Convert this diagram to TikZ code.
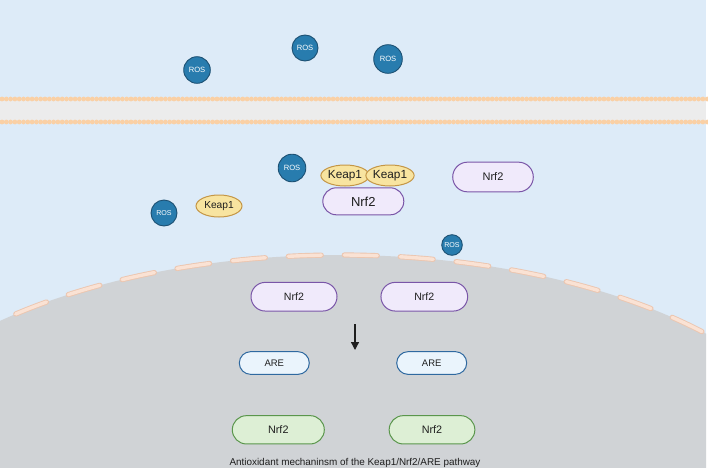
\documentclass[tikz,border=0pt]{standalone}
\usepackage{fontspec}
\setmainfont{Liberation Sans}
\usetikzlibrary{shapes.geometric,shapes.misc,arrows.meta}
\definecolor{bgblue}{RGB}{221,235,248}
\definecolor{nucgray}{RGB}{208,211,214}
\definecolor{dotpeach}{RGB}{250,208,165}
\definecolor{bandcol}{RGB}{236,236,236}
\definecolor{rosfill}{RGB}{40,124,174}
\definecolor{rosdraw}{RGB}{28,80,115}
\definecolor{keapfill}{RGB}{248,228,160}
\definecolor{keapdraw}{RGB}{196,150,70}
\definecolor{nrffill}{RGB}{240,234,251}
\definecolor{nrfdraw}{RGB}{122,86,168}
\definecolor{arefill}{RGB}{234,244,252}
\definecolor{aredraw}{RGB}{47,105,160}
\definecolor{grnfill}{RGB}{221,239,213}
\definecolor{grndraw}{RGB}{90,150,76}
\definecolor{dashout}{RGB}{236,198,176}
\definecolor{dashin}{RGB}{250,226,212}
\definecolor{txt}{RGB}{30,30,30}
\tikzset{
  ros/.style={circle, fill=rosfill, draw=rosdraw, line width=0.9pt, text=white, inner sep=0pt, minimum size=#1},
  keap/.style={ellipse, fill=keapfill, draw=keapdraw, line width=1pt, inner sep=0pt, text=txt},
  pill/.style={rounded rectangle, line width=1pt, inner sep=0pt, text=txt},
  nrf/.style={pill, fill=nrffill, draw=nrfdraw},
  are/.style={pill, fill=arefill, draw=aredraw},
  grn/.style={pill, fill=grnfill, draw=grndraw},
  fs/.style={font=\fontsize{#1}{#1}\selectfont}
}
\begin{document}
\begin{tikzpicture}[x=1pt,y=-1pt]
\useasboundingbox (0,0) rectangle (708,471);
\fill[white] (0,0) rectangle (708,471);
\fill[bgblue] (0,0) rectangle (706,467);
% membrane
\fill[bandcol] (0,100) rectangle (706,121);
\foreach \i in {0,...,164} {
  \fill[dotpeach] (2+4.3*\i,99) circle (2.4);
  \fill[dotpeach] (2+4.3*\i,122) circle (2.4);
}
% nucleus
\begin{scope}
\clip (0,0) rectangle (706,467);
\fill[nucgray] (340,502) ellipse [x radius=500, y radius=247];
\fill[nucgray] (0,502) rectangle (706,467);
\draw[dashout, line width=5.2pt, line cap=round, dash pattern=on 33pt off 23pt, dash phase=8pt]
  (340,502) ++(180:500 and 247) arc[start angle=180, end angle=360, x radius=500, y radius=247];
\draw[dashin, line width=3.4pt, line cap=round, dash pattern=on 33pt off 23pt, dash phase=8pt]
  (340,502) ++(180:500 and 247) arc[start angle=180, end angle=360, x radius=500, y radius=247];
\end{scope}
% ROS
\node[ros=26.6pt, fs=7.6] (r1) at (197,70) {ROS};
\node[ros=26pt, fs=7.6] (r2) at (305,48) {ROS};
\node[ros=28.6pt, fs=7.6] (r3) at (388,59) {ROS};
\node[ros=27.6pt, fs=7.6] (r4) at (292,168) {ROS};
\node[ros=26pt, fs=7.1] (r5) at (164,213) {ROS};
\node[ros=20.6pt, fs=7.1] (r6) at (452,245) {ROS};
% Keap1
\node[keap, minimum width=46pt, minimum height=22pt, fs=10.2] (k0) at (219,206) {Keap1};
\node[keap, minimum width=45pt, minimum height=21pt, fs=11.8] (k1) at (345,175.5) {Keap1};
\node[keap, minimum width=45pt, minimum height=21pt, fs=11.8] (k2) at (390,175.5) {Keap1};
% Nrf2
\node[nrf, minimum width=81pt, minimum height=27pt, fs=13] (n0) at (363.3,201.3) {Nrf2};
\node[nrf, minimum width=80.6pt, minimum height=29.7pt, fs=11] (n1) at (493,177) {Nrf2};
\node[nrf, minimum width=86pt, minimum height=28.7pt, fs=10.6] (n2) at (294,296.7) {Nrf2};
\node[nrf, minimum width=86.7pt, minimum height=28.7pt, fs=10.6] (n3) at (424.3,296.7) {Nrf2};
% arrow
\coordinate (a0) at (355,324);
\coordinate (a1) at (355,350);
\draw[line width=1.3pt, txt, -{Triangle[length=8pt,width=8pt]}] (a0) -- (a1);
% ARE
\node[are, minimum width=70pt, minimum height=22.7pt, fs=9.5] (e1) at (274.3,363) {ARE};
\node[are, minimum width=70pt, minimum height=22.7pt, fs=9.5] (e2) at (431.7,363) {ARE};
% green Nrf2
\node[grn, minimum width=92pt, minimum height=28.3pt, fs=10.8] (g1) at (278.3,429.8) {Nrf2};
\node[grn, minimum width=85.7pt, minimum height=28.3pt, fs=10.8] (g2) at (432,429.8) {Nrf2};
% caption
\node[text=txt, fs=9.9, inner sep=0pt] (cap) at (355,462.5) {Antioxidant mechaninsm of the Keap1/Nrf2/ARE pathway};
\end{tikzpicture}
\end{document}
